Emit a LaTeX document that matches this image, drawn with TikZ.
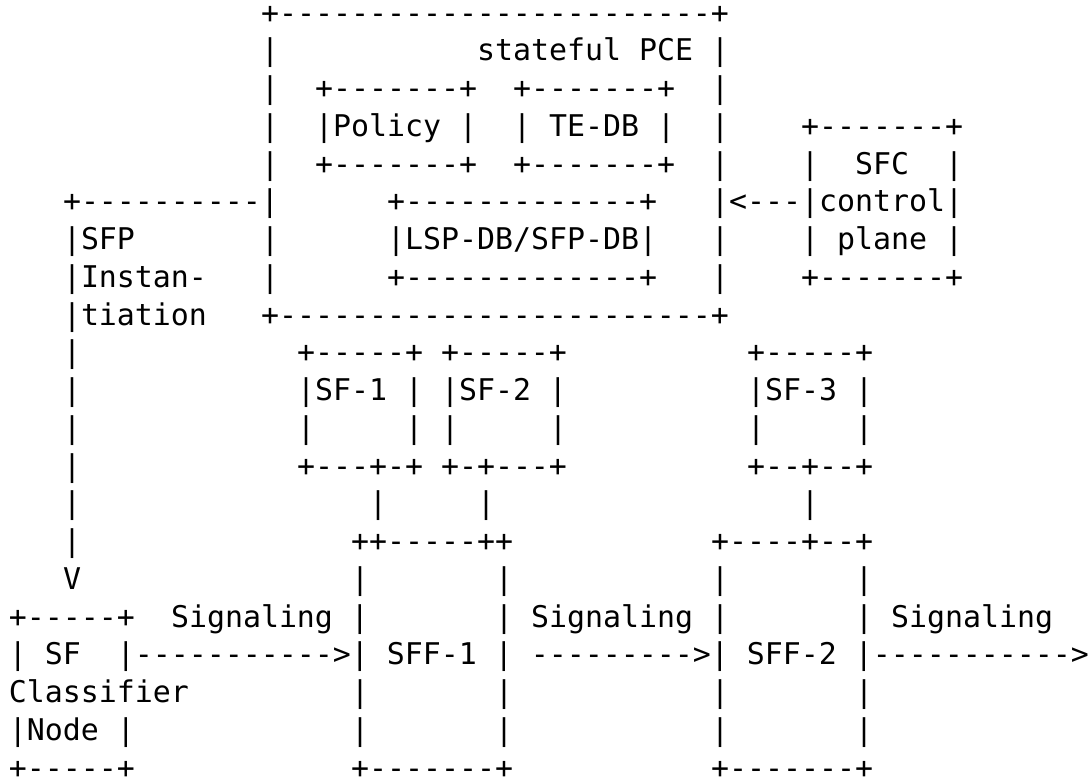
\documentclass[tikz,border=0pt]{standalone}
\usepackage{fontspec}
\setmonofont{DejaVu Sans Mono}
\tikzset{
  asc/.style={anchor=base west, inner sep=0pt, outer sep=0pt, text=black,
    font=\ttfamily\fontsize{29.9}{36}\selectfont}
}
% row, column, text (column pitch 18, row pitch 37.75)
\newcommand\asciipiece[3]{\node[asc] (t#1c#2) at ({9+18*#2},{23+37.75*#1}) {#3};}
\begin{document}
\begin{tikzpicture}[x=1pt,y=-1pt]
\fill[white] (0,0) rectangle (1090,780);
\useasboundingbox (0,0) rectangle (1090,780);
% stateful PCE box
\asciipiece{0}{14}{+------------------------+}
\asciipiece{1}{14}{|}\asciipiece{1}{26}{stateful~PCE}\asciipiece{1}{39}{|}
\asciipiece{2}{14}{|}\asciipiece{2}{17}{+-------+}\asciipiece{2}{28}{+-------+}\asciipiece{2}{39}{|}
\asciipiece{3}{14}{|}\asciipiece{3}{17}{|Policy~|}\asciipiece{3}{28}{|~TE-DB~|}\asciipiece{3}{39}{|}\asciipiece{3}{44}{+-------+}
\asciipiece{4}{14}{|}\asciipiece{4}{17}{+-------+}\asciipiece{4}{28}{+-------+}\asciipiece{4}{39}{|}\asciipiece{4}{44}{|~~SFC~~|}
\asciipiece{5}{3}{+----------|}\asciipiece{5}{21}{+-------------+}\asciipiece{5}{39}{|<---|control|}
\asciipiece{6}{3}{|SFP}\asciipiece{6}{14}{|}\asciipiece{6}{21}{|LSP-DB/SFP-DB|}\asciipiece{6}{39}{|}\asciipiece{6}{44}{|~plane~|}
\asciipiece{7}{3}{|Instan-}\asciipiece{7}{14}{|}\asciipiece{7}{21}{+-------------+}\asciipiece{7}{39}{|}\asciipiece{7}{44}{+-------+}
\asciipiece{8}{3}{|tiation}\asciipiece{8}{14}{+------------------------+}
% SF boxes
\asciipiece{9}{3}{|}\asciipiece{9}{16}{+-----+~+-----+}\asciipiece{9}{41}{+-----+}
\asciipiece{10}{3}{|}\asciipiece{10}{16}{|SF-1~|~|SF-2~|}\asciipiece{10}{41}{|SF-3~|}
\asciipiece{11}{3}{|}\asciipiece{11}{16}{|}\asciipiece{11}{22}{|}\asciipiece{11}{24}{|}\asciipiece{11}{30}{|}\asciipiece{11}{41}{|}\asciipiece{11}{47}{|}
\asciipiece{12}{3}{|}\asciipiece{12}{16}{+---+-+~+-+---+}\asciipiece{12}{41}{+--+--+}
\asciipiece{13}{3}{|}\asciipiece{13}{20}{|}\asciipiece{13}{26}{|}\asciipiece{13}{44}{|}
\asciipiece{14}{3}{|}\asciipiece{14}{19}{++-----++}\asciipiece{14}{39}{+----+--+}
\asciipiece{15}{3}{V}\asciipiece{15}{19}{|}\asciipiece{15}{27}{|}\asciipiece{15}{39}{|}\asciipiece{15}{47}{|}
% classifier and SFFs
\asciipiece{16}{0}{+-----+}\asciipiece{16}{9}{Signaling~|}\asciipiece{16}{27}{|~Signaling~|}\asciipiece{16}{47}{|~Signaling}
\asciipiece{17}{0}{|~SF~~|----------->|~SFF-1~|~--------->|~SFF-2~|----------->}
\asciipiece{18}{0}{Classifier}\asciipiece{18}{19}{|}\asciipiece{18}{27}{|}\asciipiece{18}{39}{|}\asciipiece{18}{47}{|}
\asciipiece{19}{0}{|Node~|}\asciipiece{19}{19}{|}\asciipiece{19}{27}{|}\asciipiece{19}{39}{|}\asciipiece{19}{47}{|}
\asciipiece{20}{0}{+-----+}\asciipiece{20}{19}{+-------+}\asciipiece{20}{39}{+-------+}
\end{tikzpicture}
\end{document}
